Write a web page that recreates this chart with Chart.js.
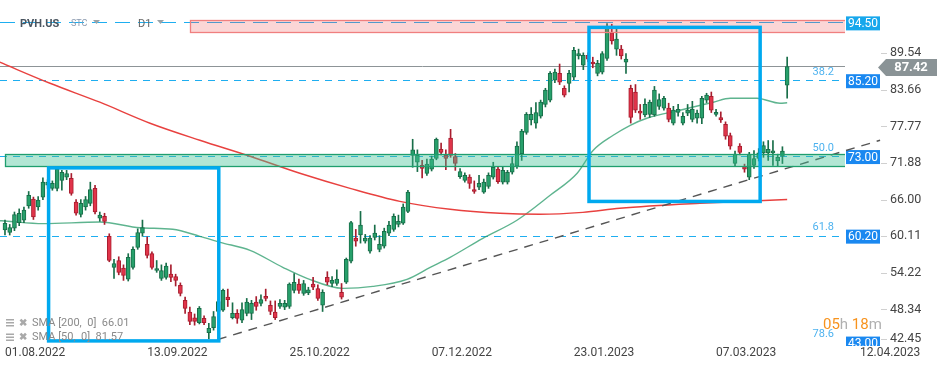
<!DOCTYPE html>
<html>
  <head>
    <title>PVH.US D1</title>
    <script src="https://cdn.jsdelivr.net/npm/chart.js"></script>
    <style>
      body { margin: 0; background: #fff; }
      canvas { display: block; }
    </style>
  </head>
  <body>
    <canvas id="myChart" width="949" height="370"></canvas>
    <script>
      // daily candles (index 0 = 01.08.2022)
      var open = [
        61.1, 60.7, 61.4, 62.3, 62.7, 65.0, 66.1, 64.8, 66.4, 68.3,
        67.8, 67.8, 69.1, 69.6, 69.4, 65.6, 63.6, 64.8, 65.4, 67.8,
        63.0, 63.3, 60.1, 55.1, 56.2, 55.0, 53.2, 55.1, 58.3, 60.6,
        58.8, 57.3, 54.6, 53.3, 53.5, 54.0, 53.6, 52.2, 49.8, 47.9,
        47.0, 46.2, 46.9, 44.6, 45.4, 48.0, 48.2, 50.3, 47.0, 47.7,
        46.6, 47.7, 47.7, 49.5, 49.3, 50.4, 49.0, 47.9, 48.8, 48.7,
        48.8, 51.4, 52.4, 50.9, 51.0, 52.4, 51.7, 49.0, 53.5, 52.5,
        52.5, 51.1, 52.7, 56.1, 59.8, 60.3, 59.3, 57.7, 59.9, 58.0,
        58.5, 60.6, 61.2, 62.0, 62.2, 64.1, 73.1, 72.0, 71.5, 70.2,
        70.9, 72.6, 74.1, 73.1, 75.9, 72.9, 69.7, 69.1, 69.6, 67.6,
        68.0, 67.2, 68.1, 69.6, 70.9, 68.8, 68.8, 70.4, 71.4, 73.4,
        76.8, 78.8, 78.3, 79.4, 81.3, 82.0, 85.2, 86.3, 83.9, 84.7,
        85.7, 89.1, 87.6, 89.2, 88.1, 86.3, 86.5, 88.7, 92.8, 90.2,
        90.2, 88.1, 83.9, 83.3, 80.2, 79.6, 79.7, 79.6, 81.0, 80.7,
        80.7, 78.3, 80.0, 78.3, 79.9, 78.9, 79.1, 79.1, 82.0, 82.6,
        79.7, 79.2, 78.1, 76.3, 71.8, 74.6, 71.3, 69.6, 71.5, 72.6,
        73.5, 73.5, 73.5, 72.2, 73.0, 84.4
      ];
      var high = [
        62.7, 62.0, 64.0, 64.5, 64.8, 67.3, 66.4, 66.5, 69.5, 69.2,
        69.0, 71.3, 70.7, 70.7, 70.2, 66.0, 66.0, 66.5, 68.8, 68.3,
        64.0, 63.8, 60.5, 56.4, 56.8, 55.5, 57.3, 58.4, 61.3, 62.7,
        60.0, 57.6, 56.2, 55.5, 55.8, 55.5, 54.0, 52.6, 50.3, 48.7,
        47.6, 48.8, 47.3, 46.1, 48.0, 50.0, 51.6, 51.6, 49.4, 48.3,
        49.4, 50.1, 49.8, 50.4, 50.7, 51.6, 49.7, 49.7, 49.9, 49.8,
        52.6, 54.1, 53.2, 53.0, 51.9, 53.5, 52.3, 51.5, 54.4, 53.6,
        54.7, 52.5, 56.6, 62.5, 61.2, 64.1, 60.4, 60.2, 61.9, 60.2,
        61.4, 62.5, 63.7, 63.5, 65.3, 67.5, 75.7, 74.0, 72.3, 72.5,
        73.0, 75.9, 75.1, 74.0, 77.3, 73.4, 71.0, 70.3, 70.0, 69.0,
        69.9, 69.3, 70.3, 72.0, 71.3, 71.2, 70.7, 72.8, 75.3, 77.3,
        80.0, 80.8, 81.6, 82.0, 83.9, 86.6, 87.0, 87.8, 84.3, 86.8,
        90.5, 90.2, 89.6, 89.6, 88.9, 88.4, 89.8, 94.3, 94.2, 93.6,
        90.8, 89.5, 84.4, 84.5, 81.3, 82.2, 82.0, 84.2, 83.0, 82.6,
        81.5, 81.0, 81.3, 80.0, 81.3, 81.8, 80.4, 82.6, 83.1, 83.3,
        80.5, 80.1, 78.5, 76.7, 73.8, 75.0, 71.7, 73.6, 73.9, 74.2,
        75.3, 75.5, 75.5, 73.3, 74.5, 88.9
      ];
      var low = [
        60.3, 60.3, 61.0, 61.8, 62.3, 64.6, 62.8, 64.3, 66.0, 67.8,
        67.5, 67.4, 67.5, 69.2, 66.7, 63.5, 63.2, 64.3, 65.0, 63.7,
        62.5, 62.0, 56.0, 53.3, 53.9, 53.0, 52.9, 54.8, 58.0, 60.1,
        56.6, 54.8, 54.3, 53.0, 53.2, 52.8, 52.1, 50.5, 47.7, 45.9,
        45.8, 46.0, 45.9, 43.6, 45.0, 47.8, 48.0, 48.8, 46.8, 46.1,
        46.2, 47.3, 46.7, 48.2, 48.9, 49.7, 47.5, 46.7, 48.5, 48.3,
        48.5, 51.0, 50.9, 50.6, 50.7, 51.5, 49.8, 48.0, 52.3, 52.0,
        52.2, 50.0, 52.5, 55.8, 58.5, 59.0, 59.0, 57.4, 59.5, 57.6,
        58.2, 60.2, 60.9, 61.6, 62.0, 63.9, 71.2, 70.5, 69.5, 69.9,
        70.6, 72.4, 73.2, 70.8, 72.8, 70.7, 69.4, 68.8, 67.8, 67.0,
        67.6, 67.0, 67.8, 69.3, 68.6, 68.5, 68.5, 70.1, 71.0, 72.3,
        76.5, 78.0, 77.5, 79.1, 80.9, 81.7, 84.8, 84.5, 82.5, 83.3,
        85.3, 88.6, 86.9, 88.2, 87.2, 85.9, 86.2, 88.4, 91.0, 89.2,
        88.6, 86.3, 78.3, 80.0, 78.9, 79.3, 79.2, 79.4, 80.5, 80.4,
        78.5, 78.0, 79.4, 78.0, 79.5, 78.5, 78.3, 78.2, 81.6, 80.0,
        79.4, 78.4, 75.7, 74.1, 71.3, 73.2, 70.4, 69.2, 71.0, 72.2,
        72.8, 72.3, 71.5, 71.4, 71.8, 82.3
      ];
      var close = [
        62.2, 61.5, 63.6, 63.8, 64.3, 66.7, 63.2, 65.9, 68.8, 68.8,
        68.6, 70.9, 70.4, 70.2, 67.0, 63.8, 65.4, 66.0, 67.6, 64.0,
        63.5, 62.5, 56.2, 55.7, 54.3, 53.8, 56.7, 58.0, 60.7, 61.5,
        57.0, 55.1, 54.9, 54.6, 55.3, 53.5, 53.0, 50.9, 48.5, 46.4,
        46.4, 48.5, 46.2, 45.3, 47.2, 49.6, 51.4, 49.9, 47.7, 46.9,
        48.3, 49.5, 49.3, 48.8, 49.9, 50.1, 48.0, 47.0, 49.3, 49.3,
        52.4, 52.7, 51.4, 52.5, 51.5, 51.9, 50.1, 51.1, 52.7, 53.0,
        53.2, 50.3, 56.4, 62.3, 59.3, 61.9, 59.8, 59.8, 60.6, 58.8,
        60.9, 61.9, 63.3, 62.5, 64.8, 67.2, 74.0, 73.1, 71.0, 71.7,
        72.5, 75.7, 73.6, 72.6, 73.1, 71.8, 70.5, 69.9, 68.6, 67.3,
        68.6, 68.8, 69.9, 71.2, 68.9, 70.7, 70.4, 71.8, 74.6, 77.0,
        79.7, 79.7, 80.0, 81.7, 83.6, 86.3, 86.5, 84.9, 82.8, 86.3,
        90.0, 89.5, 89.2, 88.6, 87.8, 87.9, 89.5, 93.6, 91.5, 91.8,
        89.1, 88.6, 79.2, 80.4, 79.9, 81.3, 81.7, 83.6, 82.1, 82.3,
        78.9, 80.4, 80.5, 79.4, 80.4, 80.5, 79.9, 82.3, 82.8, 80.4,
        80.0, 78.8, 76.2, 74.6, 73.3, 73.6, 70.9, 73.3, 72.6, 73.5,
        74.7, 74.1, 73.8, 72.8, 73.8, 87.4
      ];

      // exchange holidays skipped when listing the trading days
      var holidays = ["05.09.2022", "24.11.2022", "26.12.2022", "02.01.2023", "16.01.2023", "20.02.2023"];
      var tickLabels = ["01.08.2022", "13.09.2022", "25.10.2022", "07.12.2022", "23.01.2023", "07.03.2023"];
      var lastDateLabel = "12.04.2023";
      var yTicks = [89.54, 83.66, 77.77, 71.88, 66.00, 60.11, 54.22, 48.34, 42.45];

      // moving averages (candle index, value)
      var sma50X = [-1.1, 0, 8, 20, 28.5, 35.4, 41.1, 45.4, 51.7, 58.6, 63.7, 71.3, 77.6, 84.8, 89.7, 93.9,
                    100.8, 108, 115, 120.7, 124.1, 128.3, 131.9, 135.4, 142.4, 149.4, 153, 158.6, 163.5, 165];
      var sma50 = [62.6, 62.55, 62.13, 62.39, 61.46, 61.22, 60.09, 59.12, 57.84, 55.1, 53.33, 51.72, 52.04, 53.17, 55.1, 56.71,
                   59.77, 62.67, 66.69, 70.23, 73.93, 76.34, 77.95, 79.08, 80.37, 81.66, 82.3, 82.3, 81.5, 81.57];
      var sma200X = [-1.1, 9.5, 20, 30.6, 41.1, 51.7, 62.2, 72.8, 83.3, 93.9, 104.4, 112.9, 121.9, 129.7, 146.6, 165];
      var sma200 = [88.1, 84.71, 81.66, 78.28, 75.54, 72.97, 70.23, 67.81, 65.72, 64.44, 63.79, 63.63, 63.95, 64.6, 65.4, 66.01];

      // drawing tools on the chart
      var trendX = [44.9, 184.6];
      var trendY = [43.5, 75.54];
      var levels = [94.50, 85.20, 73.00, 60.20, 43.00];
      var levelLine = [true, true, true, true, false];
      var fibLabels = ["", "38.2", "50.0", "61.8", "78.6"];
      var lastPrice = 87.42;
      var redZone = [93.03, 94.96], redZoneFrom = 39;
      var greenZone = [71.47, 73.40], greenZoneFrom = 0;
      var boxX = [[9.2, 45.1], [123.2, 159.3]];
      var boxY = [[71.1, 43.27], [93.7, 65.7]];
      var smaLegend = ["SMA [200,  0]  66.01", "SMA [50,  0]  81.57"];

      var dates = [];
      function pad(n) { return (n < 10 ? "0" : "") + n; }
      var d = new Date(2022, 7, 1);
      while (dates.length < close.length) {
        var lbl = pad(d.getDate()) + "." + pad(d.getMonth() + 1) + "." + d.getFullYear();
        if (d.getDay() !== 0 && d.getDay() !== 6 && holidays.indexOf(lbl) < 0) dates.push(lbl);
        d.setDate(d.getDate() + 1);
      }

      var upFill = "#27a06b", upLine = "#186e49", downFill = "#e1344a", downLine = "#a81d2e";
      function isUp(i) { return close[i] >= open[i]; }
      var font = "Roboto";

      var overlay = {
        id: "overlay",
        beforeDatasetsDraw: function (chart) {
          var ctx = chart.ctx, a = chart.chartArea, x = chart.scales.x, y = chart.scales.y;
          ctx.save();
          ctx.beginPath();
          ctx.rect(a.left, a.top, a.right - a.left, a.bottom - a.top);
          ctx.clip();
          // horizontal levels
          levels.forEach(function (v, i) {
            if (!levelLine[i]) return;
            var py = Math.round(y.getPixelForValue(v)) + 0.5;
            ctx.strokeStyle = "#1eaef0";
            ctx.lineWidth = 1.2;
            ctx.setLineDash(i === 0 ? [15, 8] : [7, 6]);
            ctx.beginPath();
            ctx.moveTo(a.left, py);
            ctx.lineTo(a.right, py);
            ctx.stroke();
          });
          ctx.setLineDash([]);
          var pp = Math.round(y.getPixelForValue(lastPrice)) + 0.5;
          ctx.strokeStyle = "#8d9497";
          ctx.lineWidth = 1;
          ctx.beginPath();
          ctx.moveTo(a.left, pp);
          ctx.lineTo(a.right, pp);
          ctx.stroke();
          // fibonacci texts
          ctx.font = "11px " + font;
          ctx.fillStyle = "#4db2ef";
          ctx.textAlign = "right";
          ctx.textBaseline = "middle";
          fibLabels.forEach(function (t, i) {
            if (t) ctx.fillText(t, a.right - 11, y.getPixelForValue(levels[i]) - 8);
          });
          ctx.restore();

          // level boxes on the price axis
          ctx.save();
          ctx.beginPath();
          ctx.rect(0, 0, chart.width, a.bottom);
          ctx.clip();
          ctx.font = "12px " + font;
          ctx.textAlign = "center";
          ctx.textBaseline = "middle";
          levels.forEach(function (v, i) {
            var py = y.getPixelForValue(v) + 1;
            ctx.fillStyle = i === 0 ? "#17a7ec" : "#1a88f0";
            ctx.fillRect(a.right + 1, py - 7, 34, 14);
            ctx.fillStyle = "#fff";
            ctx.fillText(v.toFixed(2), a.right + 18, py + 0.5);
          });
          ctx.restore();
        },
        afterDatasetsDraw: function (chart) {
          var ctx = chart.ctx, a = chart.chartArea, x = chart.scales.x, y = chart.scales.y;
          ctx.save();
          ctx.beginPath();
          ctx.rect(a.left, a.top, a.right - a.left, a.bottom - a.top);
          ctx.clip();
          // zones
          function zone(z, from, fill, line) {
            var x0 = Math.round(x.getPixelForValue(from)) + 0.5;
            var y0 = Math.round(y.getPixelForValue(z[1])) + 0.5;
            var y1 = Math.round(y.getPixelForValue(z[0])) + 0.5;
            ctx.fillStyle = fill;
            ctx.fillRect(x0, y0, a.right - x0, y1 - y0);
            ctx.strokeStyle = line;
            ctx.lineWidth = 1.3;
            ctx.strokeRect(x0, y0, a.right - x0 + 2, y1 - y0);
          }
          zone(redZone, redZoneFrom, "rgba(240,90,90,0.25)", "#f07f7f");
          zone(greenZone, greenZoneFrom, "rgba(63,193,148,0.4)", "#1f9e6e");
          // blue rectangles
          ctx.strokeStyle = "#00a9ef";
          ctx.lineWidth = 3.5;
          boxX.forEach(function (bx, i) {
            var x0 = x.getPixelForValue(bx[0]), x1 = x.getPixelForValue(bx[1]);
            var y0 = y.getPixelForValue(boxY[i][0]), y1 = y.getPixelForValue(boxY[i][1]);
            ctx.strokeRect(x0, y0, x1 - x0, y1 - y0);
          });
          ctx.restore();

          ctx.save();
          // header
          ctx.textBaseline = "middle";
          ctx.textAlign = "left";
          ctx.fillStyle = "#4a5560";
          ctx.font = "bold 11px " + font;
          ctx.fillText("PVH.US", 20, 24);
          ctx.fillStyle = "#8c9bb0";
          ctx.font = "9px " + font;
          ctx.fillText("STC", 71, 24);
          ctx.fillStyle = "#666";
          ctx.font = "11px " + font;
          ctx.fillText("D1", 138, 24);
          ctx.fillStyle = "#9aa3a8";
          [93, 157].forEach(function (tx) {
            ctx.beginPath();
            ctx.moveTo(tx, 20);
            ctx.lineTo(tx + 7, 20);
            ctx.lineTo(tx + 3.5, 24);
            ctx.closePath();
            ctx.fill();
          });
          // indicator legend
          smaLegend.forEach(function (t, i) {
            var ly = 323 + i * 14.5;
            ctx.fillStyle = "#a9a9a9";
            ctx.fillRect(6, ly - 4, 8, 1.5);
            ctx.fillRect(6, ly - 1, 8, 1.5);
            ctx.fillRect(6, ly + 2, 8, 1.5);
            ctx.font = "bold 10px " + font;
            ctx.fillText("\u2716", 19, ly);
            ctx.fillStyle = "#8a8a8a";
            ctx.font = "11px " + font;
            ctx.fillText(t, 32, ly);
          });
          // candle countdown
          ctx.font = "15px " + font;
          var cx = 823;
          [["05", "#f7931e"], ["h", "#b0b0b0"], [" 18", "#f7931e"], ["m", "#b0b0b0"]].forEach(function (p) {
            ctx.fillStyle = p[1];
            ctx.fillText(p[0], cx, 325);
            cx += ctx.measureText(p[0]).width;
          });
          ctx.restore();
        },
        afterDraw: function (chart) {
          var ctx = chart.ctx, a = chart.chartArea, y = chart.scales.y;
          ctx.save();
          // price axis labels
          ctx.font = "12.5px " + font;
          ctx.textAlign = "left";
          ctx.textBaseline = "middle";
          y.ticks.forEach(function (t) {
            var py = Math.min(y.getPixelForValue(t.value), a.bottom - 7);
            ctx.strokeStyle = "#d0d0d0";
            ctx.lineWidth = 1;
            ctx.beginPath();
            ctx.moveTo(a.right + 36, Math.round(py) + 0.5);
            ctx.lineTo(a.right + 42, Math.round(py) + 0.5);
            ctx.stroke();
            ctx.fillStyle = "#444";
            ctx.fillText(t.value.toFixed(2), a.right + 45, py);
          });
          // last price tag
          var pp = y.getPixelForValue(lastPrice) + 1;
          ctx.fillStyle = "#8a9396";
          ctx.beginPath();
          ctx.moveTo(a.right + 33, pp);
          ctx.lineTo(a.right + 41, pp - 8.5);
          ctx.lineTo(a.right + 92, pp - 8.5);
          ctx.lineTo(a.right + 92, pp + 8.5);
          ctx.lineTo(a.right + 41, pp + 8.5);
          ctx.closePath();
          ctx.fill();
          ctx.fillStyle = "#fff";
          ctx.font = "bold 13px " + font;
          ctx.textAlign = "center";
          ctx.fillText(lastPrice.toFixed(2), a.right + 66, pp + 0.5);
          // current date on the time axis
          ctx.fillStyle = "#444";
          ctx.font = "12px " + font;
          ctx.textAlign = "left";
          ctx.fillText(lastDateLabel, a.right + 15, a.bottom + 7);
          ctx.restore();
        }
      };

      var ctx = document.getElementById("myChart").getContext("2d");
      var myChart = new Chart(ctx, {
        type: "bar",
        data: {
          datasets: [
            {
              label: "wick",
              data: close.map(function (c, i) { return { x: i, y: [low[i], high[i]] }; }),
              backgroundColor: function (c) { return isUp(c.dataIndex) ? upLine : downLine; },
              barThickness: 1,
              grouped: false,
              order: 2
            },
            {
              label: "body",
              data: close.map(function (c, i) { return { x: i, y: [open[i], c] }; }),
              backgroundColor: function (c) { return isUp(c.dataIndex) ? upFill : downFill; },
              borderColor: function (c) { return isUp(c.dataIndex) ? upLine : downLine; },
              borderWidth: 1,
              borderSkipped: false,
              barThickness: 4,
              minBarLength: 2,
              grouped: false,
              order: 1
            },
            {
              type: "line",
              label: "SMA 200",
              data: sma200X.map(function (v, i) { return { x: v, y: sma200[i] }; }),
              borderColor: "#e8413f",
              borderWidth: 1.4,
              pointRadius: 0,
              cubicInterpolationMode: "monotone",
              order: 3
            },
            {
              type: "line",
              label: "SMA 50",
              data: sma50X.map(function (v, i) { return { x: v, y: sma50[i] }; }),
              borderColor: "rgba(40,155,105,0.75)",
              borderWidth: 1.4,
              pointRadius: 0,
              cubicInterpolationMode: "monotone",
              order: 3
            },
            {
              type: "line",
              label: "trend",
              data: trendX.map(function (v, i) { return { x: v, y: trendY[i] }; }),
              borderColor: "#555",
              borderWidth: 1.4,
              borderDash: [9, 7],
              pointRadius: 0,
              clip: false,
              order: 0
            }
          ]
        },
        options: {
          responsive: false,
          animation: false,
          devicePixelRatio: 1,
          layout: { padding: 0 },
          plugins: { legend: { display: false }, tooltip: { enabled: false } },
          scales: {
            x: {
              type: "linear",
              min: -1.05,
              max: 177.2,
              offset: false,
              grid: { display: false, drawTicks: false },
              border: { display: false },
              afterBuildTicks: function (s) {
                s.ticks = tickLabels.map(function (l) { return { value: dates.indexOf(l) }; });
              },
              afterFit: function (s) { s.height = 24; s.paddingLeft = 0; s.paddingRight = 0; },
              ticks: {
                align: "start",
                padding: 0,
                maxRotation: 0,
                autoSkip: false,
                color: "#444",
                font: { family: font, size: 12 },
                callback: function (v) { return dates[v]; }
              }
            },
            y: {
              position: "right",
              min: 42.45,
              max: 98.1,
              grid: { display: false, drawTicks: false },
              border: { display: false },
              afterBuildTicks: function (s) {
                s.ticks = yTicks.map(function (v) { return { value: v }; });
              },
              afterFit: function (s) { s.width = 104; s.paddingTop = 0; s.paddingBottom = 0; },
              ticks: { display: false }
            }
          }
        },
        plugins: [overlay]
      });
    </script>
  </body>
</html>
